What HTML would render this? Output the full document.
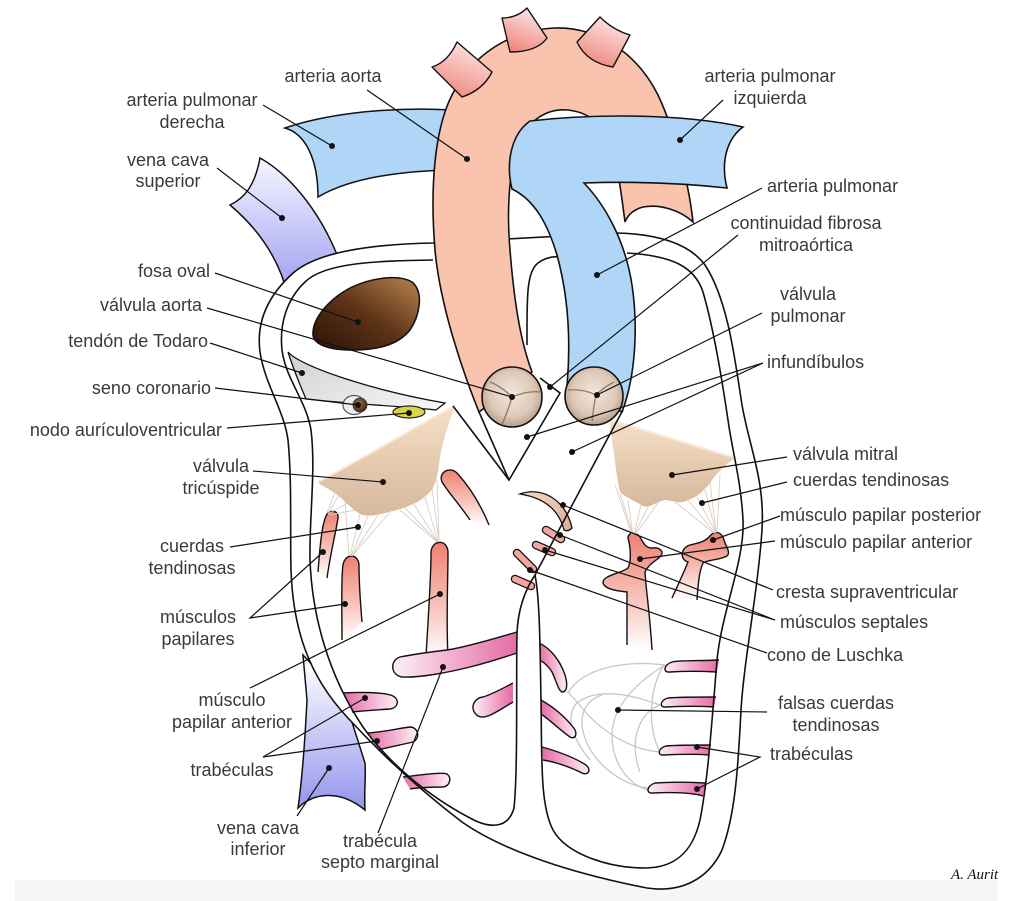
<!DOCTYPE html>
<html><head><meta charset="utf-8">
<style>
html,body{margin:0;padding:0;background:#fff;}
svg{display:block;}
text{font-family:"Liberation Sans",sans-serif;font-size:18px;fill:#3a3a3a;}
</style></head><body>
<svg width="1023" height="901" viewBox="0 0 1023 901" xmlns="http://www.w3.org/2000/svg">
<defs>
 <linearGradient id="gSvc" x1="0" y1="0" x2="0" y2="1"><stop offset="0" stop-color="#f6f6ff"/><stop offset="1" stop-color="#9c9cf2"/></linearGradient>
 <linearGradient id="gVci" gradientUnits="userSpaceOnUse" x1="0" y1="660" x2="0" y2="810"><stop offset="0" stop-color="#ffffff"/><stop offset="1" stop-color="#9494ee"/></linearGradient>
 <linearGradient id="gBr" x1="0.7" y1="0" x2="0.3" y2="1"><stop offset="0" stop-color="#fde8e4"/><stop offset="1" stop-color="#ee867e"/></linearGradient>
 <linearGradient id="gFosa" x1="0" y1="1" x2="1" y2="0"><stop offset="0" stop-color="#2a1206"/><stop offset="0.5" stop-color="#5e3418"/><stop offset="1" stop-color="#b98550"/></linearGradient>
 <radialGradient id="gValve" cx="0.5" cy="0.45" r="0.55"><stop offset="0" stop-color="#f3e8dc"/><stop offset="0.7" stop-color="#dcc8b6"/><stop offset="1" stop-color="#b79e8a"/></radialGradient>
 <linearGradient id="gLeaf" x1="0" y1="0" x2="0" y2="1"><stop offset="0" stop-color="#f7e0ca"/><stop offset="0.5" stop-color="#e6cbb0"/><stop offset="1" stop-color="#d6b99e"/></linearGradient>
 <linearGradient id="gPap" x1="0" y1="0" x2="0" y2="1"><stop offset="0" stop-color="#ee8070"/><stop offset="0.6" stop-color="#f8c8c0"/><stop offset="1" stop-color="#ffffff"/></linearGradient>
 <linearGradient id="gTrL" x1="0" y1="0" x2="1" y2="0"><stop offset="0" stop-color="#e66aa6"/><stop offset="1" stop-color="#fdf0f6"/></linearGradient>
 <linearGradient id="gTrR" x1="0" y1="0" x2="1" y2="0"><stop offset="0" stop-color="#fdf0f6"/><stop offset="1" stop-color="#e66aa6"/></linearGradient>
 <linearGradient id="gTod" x1="0" y1="0" x2="1" y2="1"><stop offset="0" stop-color="#cfcfcf"/><stop offset="1" stop-color="#f8f8f8"/></linearGradient>
 <radialGradient id="gSeno" cx="0.4" cy="0.4" r="0.6"><stop offset="0" stop-color="#a87448"/><stop offset="1" stop-color="#4a2810"/></radialGradient>
 <linearGradient id="gCres" x1="0" y1="0" x2="1" y2="1"><stop offset="0" stop-color="#f3d8c4"/><stop offset="1" stop-color="#dcae96"/></linearGradient>
</defs>

<rect x="15" y="880" width="983" height="21" fill="#f6f6f6"/>

<!-- vena cava superior -->
<path d="M230,205 C245,198 255,185 260,158 C285,172 318,205 340,262 L288,296 C280,262 262,232 230,205 Z" fill="url(#gSvc)" stroke="#111" stroke-width="1.5"/>
<!-- vena cava inferior -->
<path d="M303,655 L307,700 C305,740 302,780 298,808 C312,794 338,788 365,810 C364,792 366,776 365,763 L345,700 Z" fill="url(#gVci)" stroke="#111" stroke-width="1.5"/>
<!-- arteria pulmonar derecha -->
<path d="M285,128 C320,116 380,106 452,110 L452,170 C400,171 350,178 318,197 C318,160 306,134 285,128 Z" fill="#afd6f7" stroke="#111" stroke-width="1.5"/>

<!-- heart fill -->
<path d="M433,243 C380,244 318,250 292,274 C268,296 256,322 260,352 C265,385 284,410 288,440 C292,480 290,530 291,570 C293,628 308,675 347,717 C382,755 420,790 462,822 C505,852 575,874 647,888 C680,893 708,880 722,850 C735,815 738,770 741,710 C744,660 758,590 762,530 C765,480 750,450 742,405 C735,360 728,300 705,265 C688,242 655,234 617,233 L433,243 Z" fill="#fff" stroke="none"/>

<!-- false chordae -->
<g fill="none" stroke="#c6c6c6" stroke-width="1.3">
 <path d="M665,665 C625,660 582,668 568,693"/>
 <path d="M665,665 C640,680 612,705 612,735 C612,765 630,785 648,790"/>
 <path d="M660,705 C620,690 590,690 575,705 C565,720 575,742 590,760"/>
 <path d="M660,752 C630,750 600,730 582,708 C574,698 570,694 567,692"/>
 <path d="M648,788 C620,785 592,762 584,735 C578,715 586,700 602,695"/>
 <path d="M664,665 C648,690 648,730 660,752"/>
 <path d="M660,705 C640,712 628,740 640,772"/>
</g>

<!-- trabeculae RV -->
<g stroke="#111" stroke-width="1.4">
 <path d="M343,693 C360,692 385,692 393,696 C400,700 398,708 390,709 C375,710 360,711 352,712" fill="url(#gTrL)"/>
 <path d="M367,733 C385,732 400,728 410,727 C418,727 421,738 413,742 C400,745 385,748 378,750" fill="url(#gTrL)"/>
 <path d="M403,777 C420,775 440,772 447,774 C452,778 450,786 443,787 C430,787 415,788 410,789" fill="url(#gTrL)"/>
 <path d="M513,683 C500,690 490,695 483,697 C473,698 469,710 478,716 C486,720 496,712 513,702" fill="url(#gTrR)"/>
</g>
<!-- RV papillary muscles -->
<g stroke="#111" stroke-width="1.4" fill="url(#gPap)">
 <path d="M318,572 C320,545 322,525 326,516 C329,509 339,510 338,518 C336,532 331,550 327,578"/>
 <path d="M342,640 C342,610 341,577 343,565 C345,553 358,553 359,565 C359,585 361,610 362,622"/>
 <path d="M426,657 C428,620 431,580 431,553 C431,540 447,538 448,552 C448,580 446,620 448,657"/>
 <path d="M470,520 C460,505 448,492 442,482 C438,472 450,466 457,473 C468,485 480,503 489,525"/>
</g>
<!-- septomarginal band -->
<path d="M517,632 C490,640 460,648 447,650 C430,652 410,655 400,657 C390,660 390,675 402,677 C420,678 450,672 470,667 C490,662 505,657 517,653" fill="url(#gTrR)" stroke="#111" stroke-width="1.4"/>

<!-- trabeculae LV -->
<g stroke="#111" stroke-width="1.4">
 <path d="M539,643 C550,648 560,660 565,675 C568,685 567,692 562,692 C558,690 556,680 552,672 C548,665 543,662 540,660" fill="url(#gTrL)"/>
 <path d="M541,700 C555,708 565,717 573,727 C578,733 576,740 570,737 C560,730 550,720 541,714" fill="url(#gTrL)"/>
 <path d="M542,747 C560,752 575,758 586,765 C592,770 588,776 582,773 C570,767 555,762 543,760" fill="url(#gTrL)"/>
 <path d="M719,660 C700,661 680,660 672,662 C663,665 663,673 670,672 C685,671 700,671 717,672" fill="url(#gTrR)"/>
 <path d="M716,697 C700,697 680,697 668,698 C660,700 659,708 666,707 C685,706 700,706 714,707" fill="url(#gTrR)"/>
 <path d="M711,745 C695,745 678,745 666,746 C658,748 657,756 664,755 C685,754 697,754 709,755" fill="url(#gTrR)"/>
 <path d="M706,783 C690,782 670,782 655,783 C646,786 646,794 653,793 C675,792 693,793 703,796" fill="url(#gTrR)"/>
</g>

<!-- LV papillary muscles -->
<g stroke="#111" stroke-width="1.4" fill="url(#gPap)">
 <path d="M627,645 L627,592 C617,591 603,589 603,582 C604,575 622,573 628,568 C632,560 630,545 628,538 C628,532 636,532 640,537 C643,542 645,548 652,548 C660,547 665,552 660,557 C654,562 648,565 645,572 C646,590 650,615 652,650"/>
 <path d="M672,598 C678,585 684,572 688,562 C680,560 680,548 690,545 C698,543 705,542 710,536 C715,530 722,532 724,540 C726,547 731,552 727,556 C720,560 707,560 703,563 C699,572 698,585 697,600"/>
</g>

<!-- septal muscles -->
<g stroke-linecap="round">
 <path d="M546,530 L561,539 M536,545 L552,552 M517,553 L533,569 M515,579 L531,586" stroke="#111" stroke-width="8.5"/>
 <path d="M546,530 L561,539 M536,545 L552,552 M517,553 L533,569 M515,579 L531,586" stroke="#f2a6a0" stroke-width="6"/>
</g>

<!-- chordae -->
<g stroke="#d9cdc3" stroke-width="0.9" fill="none">
 <path d="M340,493 L328,514 M348,503 L328,514 M355,510 L329,515 M336,490 L327,513"/>
 <path d="M360,514 L350,556 M368,516 L351,556 M378,515 L352,556 M390,512 L352,556 M345,500 L349,556"/>
 <path d="M413,503 L438,542 M425,497 L438,542 M432,488 L439,542 M437,480 L439,541 M400,510 L437,542 M405,508 L438,542"/>
 <path d="M620,493 L633,535 M628,500 L633,535 M641,505 L634,535 M650,503 L634,535 M660,500 L635,535 M615,485 L632,535"/>
 <path d="M688,500 L715,533 M697,497 L716,533 M705,490 L716,533 M710,483 L716,532 M675,502 L714,533 M720,475 L717,532"/>
</g>

<!-- tricuspid valve -->
<path d="M318,482 C360,460 410,430 455,406 C450,420 443,440 440,457 C438,470 438,482 430,492 C420,503 405,508 393,511 C380,514 370,518 360,514 C350,508 342,497 330,490 C325,487 320,485 318,482 Z" fill="url(#gLeaf)"/>
<path d="M318,482 C360,460 410,430 455,406" fill="none" stroke="#f9e8d8" stroke-width="2"/>
<!-- mitral valve -->
<path d="M610,420 C650,432 700,447 735,458 C725,465 715,475 710,483 C703,492 697,497 688,500 C680,505 672,500 665,500 C655,502 648,510 641,505 C633,500 625,497 620,492 C617,480 615,460 612,440 Z" fill="url(#gLeaf)"/>
<path d="M610,420 C650,432 700,447 735,458" fill="none" stroke="#f9e8d8" stroke-width="2"/>

<!-- crista supraventricularis -->
<path d="M520,494 C542,486 566,500 572,528 C569,531 566,531 564,530 C559,510 545,498 520,494 Z" fill="url(#gCres)" stroke="#111" stroke-width="1.3"/>

<!-- fosa oval -->
<path d="M313,335 C312,318 330,298 352,287 C372,278 398,274 412,282 C424,292 420,315 410,330 C398,345 378,350 352,350 C330,350 314,345 313,335 Z" fill="url(#gFosa)" stroke="#111" stroke-width="1.5"/>

<!-- tendon de Todaro -->
<path d="M288,352 C300,366 370,390 445,403 L436,410 C400,406 350,404 306,399 C300,385 293,368 288,352 Z" fill="url(#gTod)" stroke="#111" stroke-width="1.3"/>
<!-- seno coronario -->
<ellipse cx="354" cy="405" rx="11" ry="9.5" fill="#eeeeee" stroke="#555" stroke-width="1.2"/>
<circle cx="360" cy="405" r="7" fill="url(#gSeno)" stroke="#333" stroke-width="0.8"/>
<!-- nodo AV -->
<ellipse cx="409" cy="412" rx="16" ry="6" fill="#d8d448" stroke="#222" stroke-width="1.2"/>

<!-- heart lines -->
<g fill="none" stroke="#111" stroke-width="1.6">
 <path d="M433,243 C380,244 318,250 292,274 C268,296 256,322 260,352 C265,385 284,410 288,440 C292,480 290,530 291,570 C293,628 308,675 347,717 C382,755 420,790 462,822 C505,852 575,874 647,888 C680,893 708,880 722,850 C735,815 738,770 741,710 C744,660 758,590 762,530 C765,480 750,450 742,405 C735,360 728,300 705,265 C688,242 655,234 617,233 L433,243"/>
 <path d="M433,260 C380,261 325,262 305,282 C288,298 279,322 282,350 C286,380 306,400 311,430 C316,470 309,520 310,560 C312,615 328,675 363,727 C390,765 430,797 470,818 C488,828 508,830 514,808 C518,770 516,680 517,633 C518,610 525,590 535,575"/>
 <path d="M535,575 C540,600 540,650 541,700 C542,760 540,805 553,830 C567,855 610,868 645,868 C672,868 692,855 700,820 C708,780 712,720 717,660 C722,610 745,560 743,520 C741,480 732,450 728,420 C722,380 714,330 703,292 C695,268 675,256 627,253"/>
 <path d="M535,575 C558,532 600,452 623,410"/>
 <path d="M527,345 C527,300 526,272 538,263 C546,257 554,256 562,257"/>
 <path d="M453,406 L509,480 L560,393 L540,378"/>
 <path d="M479,412 L509,480"/>
</g>

<!-- aorta -->
<path d="M479,412 C462,370 440,305 435,250 C430,190 434,130 452,95 C472,55 510,30 555,28 C600,27 638,55 658,95 C672,125 688,175 693,222 C680,210 660,204 643,207 C635,209 628,214 625,222 C622,200 620,180 615,160 C607,130 595,113 568,110 C545,108 527,122 518,145 C508,175 507,215 510,250 C514,300 520,340 532,372 Z" fill="#f9c3ad" stroke="#111" stroke-width="1.6"/>
<!-- aortic branches (on top of arch) -->
<g stroke="#111" stroke-width="1.4" fill="url(#gBr)" stroke-linejoin="round">
 <path d="M432,67 Q448,62 457,42 L492,72 Q483,90 462,97 Z"/>
 <path d="M502,18 Q517,18 527,8 L547,38 Q537,52 510,52 Z"/>
 <path d="M600,17 Q613,30 630,35 L613,67 Q587,63 577,42 Z"/>
</g>
<!-- pulmonary trunk + left pulmonary artery -->
<path d="M530,121 C590,114 680,113 743,127 C728,138 720,160 727,188 C690,184 640,181 584,183 C605,205 625,240 632,285 C638,325 636,375 622,412 L567,386 C571,340 568,295 557,255 C548,225 535,200 512,189 C506,165 510,135 530,121 Z" fill="#afd6f7" stroke="#111" stroke-width="1.6"/>

<!-- valves -->
<circle cx="512" cy="397" r="30" fill="url(#gValve)" stroke="#111" stroke-width="1.6"/>
<path d="M512,397 C505,390 498,385 490,382 M512,397 C522,393 530,391 540,392 M512,397 C509,408 505,417 502,425" fill="none" stroke="#8c7868" stroke-width="1.3"/>
<circle cx="594" cy="396" r="29" fill="url(#gValve)" stroke="#111" stroke-width="1.6"/>
<path d="M596,395 C588,391 578,389 568,390 M596,395 C602,389 608,385 614,382 M596,395 C594,404 593,412 592,421" fill="none" stroke="#8c7868" stroke-width="1.3"/>

<!-- leader lines -->
<g stroke="#111" stroke-width="1.2" fill="none">
 <path d="M367,90 L467,159"/>
 <path d="M263,105 L332,146"/>
 <path d="M217,168 L282,218"/>
 <path d="M215,273 L358,322"/>
 <path d="M207,308 L512,397"/>
 <path d="M210,343 L302,373"/>
 <path d="M215,388 L358,405"/>
 <path d="M227,428 L409,413"/>
 <path d="M253,471 L383,482"/>
 <path d="M230,547 L358,527"/>
 <path d="M323,552 L250,618 L345,604"/>
 <path d="M250,688 L440,594"/>
 <path d="M365,698 L263,757 L377,741"/>
 <path d="M297,816 L329,768"/>
 <path d="M378,833 L443,667"/>
 <path d="M723,100 L680,140"/>
 <path d="M762,188 L597,275"/>
 <path d="M738,235 L550,387"/>
 <path d="M762,313 L597,395"/>
 <path d="M527,437 L763,363 L572,452"/>
 <path d="M787,457 L672,475"/>
 <path d="M787,482 L702,503"/>
 <path d="M780,516 L713,540"/>
 <path d="M775,541 L640,559"/>
 <path d="M773,590 L563,505"/>
 <path d="M560,535 L775,620 L545,550"/>
 <path d="M767,653 L530,570"/>
 <path d="M767,712 L618,710"/>
 <path d="M697,747 L760,757 L697,789"/>
</g>
<g fill="#111">
 <circle cx="467" cy="159" r="3"/><circle cx="332" cy="146" r="3"/><circle cx="282" cy="218" r="3"/>
 <circle cx="358" cy="322" r="3"/><circle cx="512" cy="397" r="3"/><circle cx="302" cy="373" r="3"/>
 <circle cx="358" cy="405" r="3"/><circle cx="409" cy="413" r="3"/><circle cx="383" cy="482" r="3"/>
 <circle cx="358" cy="527" r="3"/><circle cx="323" cy="552" r="3"/><circle cx="345" cy="604" r="3"/>
 <circle cx="440" cy="594" r="3"/><circle cx="365" cy="698" r="3"/><circle cx="377" cy="741" r="3"/>
 <circle cx="329" cy="768" r="3"/><circle cx="443" cy="667" r="3"/>
 <circle cx="680" cy="140" r="3"/><circle cx="597" cy="275" r="3"/><circle cx="550" cy="387" r="3"/>
 <circle cx="597" cy="395" r="3"/><circle cx="527" cy="437" r="3"/><circle cx="572" cy="452" r="3"/>
 <circle cx="672" cy="475" r="3"/><circle cx="702" cy="503" r="3"/><circle cx="713" cy="540" r="3"/>
 <circle cx="640" cy="559" r="3"/><circle cx="563" cy="505" r="3"/><circle cx="560" cy="535" r="3"/>
 <circle cx="545" cy="550" r="3"/><circle cx="530" cy="570" r="3"/><circle cx="618" cy="710" r="3"/>
 <circle cx="697" cy="747" r="3"/><circle cx="697" cy="789" r="3"/>
</g>

<!-- labels left -->
<text x="333" y="82" text-anchor="middle">arteria aorta</text>
<text x="192" y="106" text-anchor="middle">arteria pulmonar</text>
<text x="192" y="128" text-anchor="middle">derecha</text>
<text x="168" y="166" text-anchor="middle">vena cava</text>
<text x="168" y="187" text-anchor="middle">superior</text>
<text x="210" y="277" text-anchor="end">fosa oval</text>
<text x="202" y="311" text-anchor="end">válvula aorta</text>
<text x="208" y="347" text-anchor="end">tendón de Todaro</text>
<text x="211" y="394" text-anchor="end">seno coronario</text>
<text x="222" y="436" text-anchor="end">nodo aurículoventricular</text>
<text x="221" y="472" text-anchor="middle">válvula</text>
<text x="221" y="494" text-anchor="middle">tricúspide</text>
<text x="192" y="552" text-anchor="middle">cuerdas</text>
<text x="192" y="574" text-anchor="middle">tendinosas</text>
<text x="198" y="623" text-anchor="middle">músculos</text>
<text x="198" y="645" text-anchor="middle">papilares</text>
<text x="232" y="706" text-anchor="middle">músculo</text>
<text x="232" y="728" text-anchor="middle">papilar anterior</text>
<text x="232" y="776" text-anchor="middle">trabéculas</text>
<text x="258" y="834" text-anchor="middle">vena cava</text>
<text x="258" y="855" text-anchor="middle">inferior</text>
<text x="380" y="847" text-anchor="middle">trabécula</text>
<text x="380" y="868" text-anchor="middle">septo marginal</text>

<!-- labels right -->
<text x="770" y="82" text-anchor="middle">arteria pulmonar</text>
<text x="770" y="104" text-anchor="middle">izquierda</text>
<text x="767" y="192">arteria pulmonar</text>
<text x="806" y="229" text-anchor="middle">continuidad fibrosa</text>
<text x="806" y="251" text-anchor="middle">mitroaórtica</text>
<text x="808" y="300" text-anchor="middle">válvula</text>
<text x="808" y="322" text-anchor="middle">pulmonar</text>
<text x="767" y="368">infundíbulos</text>
<text x="793" y="460">válvula mitral</text>
<text x="793" y="486">cuerdas tendinosas</text>
<text x="780" y="521">músculo papilar posterior</text>
<text x="780" y="548">músculo papilar anterior</text>
<text x="776" y="598">cresta supraventricular</text>
<text x="780" y="628">músculos septales</text>
<text x="767" y="661">cono de Luschka</text>
<text x="836" y="709" text-anchor="middle">falsas cuerdas</text>
<text x="836" y="731" text-anchor="middle">tendinosas</text>
<text x="770" y="760">trabéculas</text>

<text x="951" y="879" style="font-family:'Liberation Serif',serif;font-style:italic;font-size:15px;fill:#111;">A. Aurit</text>
</svg>
</body></html>
